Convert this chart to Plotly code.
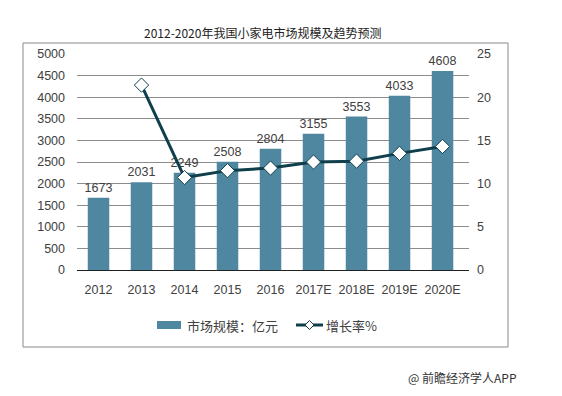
import plotly.graph_objects as go

years = ["2012", "2013", "2014", "2015", "2016", "2017E", "2018E", "2019E", "2020E"]
market_size = [1673, 2031, 2249, 2508, 2804, 3155, 3553, 4033, 4608]
growth_years = ["2013", "2014", "2015", "2016", "2017E", "2018E", "2019E", "2020E"]
growth_rate = [21.4, 10.7, 11.5, 11.8, 12.5, 12.6, 13.5, 14.3]
left_ticks = [0, 500, 1000, 1500, 2000, 2500, 3000, 3500, 4000, 4500, 5000]
right_ticks = [0, 5, 10, 15, 20, 25]
bar_name = "市场规模：亿元"
line_name = "增长率%"

W, H = 562, 396
L, R, T, B = 77, 469, 54, 270

def px(x):
    return (x - L) / (R - L)

def py(y):
    return (B - y) / (B - T)

BAR_COLOR = "#4f87a0"
LINE_COLOR = "#0f3e4c"
tick_font = dict(family="Liberation Sans, Arial, sans-serif", size=12.5, color="#404040")
cjk_font = dict(family="Noto Sans CJK SC, sans-serif", size=13, color="#404040")

fig = go.Figure()
fig.add_trace(go.Bar(
    x=years, y=market_size, name=bar_name,
    marker=dict(color=BAR_COLOR, line=dict(width=0)),
    width=0.5,
    text=[str(v) for v in market_size], textposition="outside",
    textfont=tick_font, constraintext="none", cliponaxis=False,
    showlegend=False,
))
fig.add_trace(go.Scatter(
    x=growth_years, y=growth_rate, name=line_name, yaxis="y2",
    mode="lines+markers",
    line=dict(color=LINE_COLOR, width=3),
    marker=dict(symbol="diamond", size=11, color="white",
                line=dict(color=LINE_COLOR, width=1)),
    cliponaxis=False, showlegend=False,
))

ly = 325
shapes = [
    dict(type="rect", xref="paper", yref="paper",
         x0=px(23), x1=px(508), y0=py(347), y1=py(43),
         line=dict(color="#8a8a8a", width=1), fillcolor="rgba(0,0,0,0)", layer="below"),
    # legend: bar swatch
    dict(type="rect", xref="paper", yref="paper",
         x0=px(157), x1=px(181), y0=py(ly + 4), y1=py(ly - 4),
         line=dict(width=0), fillcolor=BAR_COLOR),
    # legend: line swatch
    dict(type="line", xref="paper", yref="paper",
         x0=px(296), x1=px(323), y0=py(ly), y1=py(ly),
         line=dict(color=LINE_COLOR, width=3)),
    dict(type="path", xref="paper", yref="paper",
         path="M {a},{c} L {m},{t} L {b},{c} L {m},{u} Z".format(
             a=px(305), b=px(314), m=px(309.5), c=py(ly), t=py(ly - 4.5), u=py(ly + 4.5)),
         line=dict(color=LINE_COLOR, width=1), fillcolor="white"),
]

fig.update_layout(
    width=W, height=H,
    margin=dict(l=L, r=W - R, t=T, b=H - B),
    paper_bgcolor="white", plot_bgcolor="white",
    showlegend=False,
    xaxis=dict(type="category", showgrid=False, showline=True, linecolor="#222", linewidth=1,
               ticks="", tickfont=tick_font, ticklabelstandoff=8),
    yaxis=dict(range=[0, 5000], tickvals=left_ticks, showgrid=True, gridcolor="#8c8c8c",
               gridwidth=1, zeroline=False, ticks="", tickfont=tick_font,
               ticklabelstandoff=11),
    yaxis2=dict(range=[0, 25], tickvals=right_ticks, overlaying="y", side="right",
                showgrid=False, zeroline=False, ticks="", tickfont=tick_font,
                ticklabelstandoff=7),
    bargap=0.5,
    shapes=shapes,
    annotations=[
        dict(text="2012-2020年我国小家电市场规模及趋势预测", xref="paper", yref="paper",
             x=px(262), y=py(32), xanchor="center", yanchor="middle", showarrow=False,
             font=dict(family="Noto Sans CJK SC, sans-serif", size=12, color="#222")),
        dict(text=bar_name, xref="paper", yref="paper",
             x=px(185), y=py(ly), xanchor="left", yanchor="middle", showarrow=False,
             font=cjk_font),
        dict(text=line_name, xref="paper", yref="paper",
             x=px(324), y=py(ly), xanchor="left", yanchor="middle", showarrow=False,
             font=cjk_font),
        dict(text="@ 前瞻经济学人APP", xref="paper", yref="paper",
             x=px(519), y=py(377), xanchor="right", yanchor="middle", showarrow=False,
             font=dict(family="Noto Sans CJK SC, sans-serif", size=12, color="#333")),
    ],
)

fig.write_html("out.html", config={"displayModeBar": False},
               post_script="document.body.style.margin='0';")
